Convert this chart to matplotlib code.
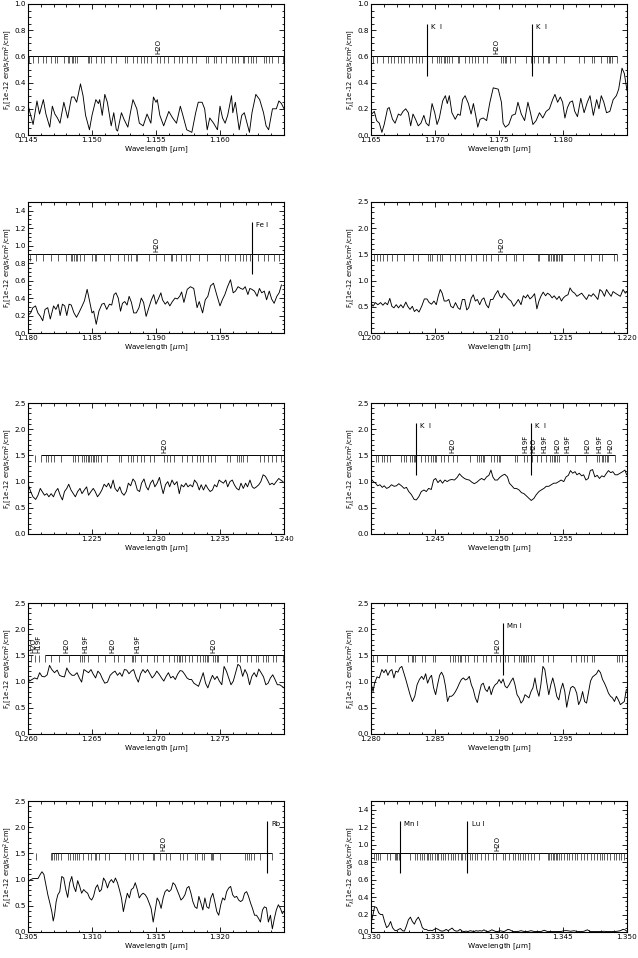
import numpy as np
import matplotlib
matplotlib.use('Agg')
import matplotlib.pyplot as plt
from matplotlib.ticker import MultipleLocator

plt.rcParams['font.family'] = 'DejaVu Sans'
plt.rcParams['font.size'] = 5.5
plt.rcParams['mathtext.fontset'] = 'dejavusans'

# ---- panel 1 : 1.145 - 1.165 um ----
wave1 = [1.14505, 1.1454, 1.1457, 1.1459, 1.1462, 1.1464, 1.1467, 1.1469, 1.1471, 1.1473, 1.1475,
         1.1478, 1.1481, 1.1484, 1.1486, 1.1488, 1.1491, 1.1493, 1.1495, 1.1498, 1.1500, 1.1503,
         1.1505, 1.1506, 1.1508, 1.1510, 1.1512, 1.1515, 1.1517, 1.1519, 1.1520, 1.1523, 1.1525,
         1.1528, 1.1530, 1.1532, 1.1535, 1.1537, 1.1540, 1.1543, 1.1546, 1.1548, 1.1550, 1.1551,
         1.1553, 1.1556, 1.1560, 1.1563, 1.1566, 1.1569, 1.1571, 1.1574, 1.1578, 1.1581, 1.1583,
         1.1586, 1.1588, 1.1590, 1.1592, 1.1595, 1.1598, 1.1600, 1.1602, 1.1604, 1.1606, 1.1609,
         1.1610, 1.1612, 1.1615, 1.1617, 1.1619, 1.1623, 1.1625, 1.1628, 1.1631, 1.1634, 1.1636,
         1.1638, 1.1641, 1.1644, 1.1646, 1.1648, 1.1650]
flux1 = [0.21, 0.08, 0.26, 0.16, 0.27, 0.16, 0.06, 0.22, 0.16, 0.13, 0.09,
         0.25, 0.13, 0.29, 0.29, 0.25, 0.39, 0.30, 0.15, 0.04, 0.15, 0.27,
         0.24, 0.27, 0.15, 0.31, 0.25, 0.07, 0.17, 0.04, 0.03, 0.17, 0.12,
         0.06, 0.17, 0.27, 0.20, 0.09, 0.07, 0.16, 0.09, 0.29, 0.25, 0.27,
         0.15, 0.07, 0.18, 0.13, 0.09, 0.22, 0.15, 0.04, 0.02, 0.17, 0.25,
         0.25, 0.20, 0.04, 0.13, 0.09, 0.04, 0.22, 0.13, 0.09, 0.15, 0.30,
         0.17, 0.25, 0.04, 0.15, 0.17, 0.02, 0.17, 0.31, 0.27, 0.17, 0.07,
         0.04, 0.20, 0.20, 0.26, 0.24, 0.20]
lines1 = [1.1451, 1.1454, 1.1458, 1.1462, 1.1464, 1.1468, 1.1471, 1.1473, 1.1478, 1.1481, 1.1482,
          1.1484, 1.1485, 1.1487, 1.1488, 1.1497, 1.1498, 1.1499, 1.1503, 1.1507, 1.1509, 1.1515,
          1.1519, 1.1526, 1.1527, 1.1532, 1.1535, 1.1538, 1.1541, 1.1543, 1.1546, 1.1551, 1.1553,
          1.1556, 1.1559, 1.1564, 1.1568, 1.1570, 1.1574, 1.1578, 1.1581, 1.1589, 1.1591, 1.1595,
          1.1597, 1.1601, 1.1605, 1.1609, 1.1612, 1.1614, 1.1618, 1.1619, 1.1622, 1.1624, 1.1626,
          1.1628, 1.1634, 1.1636, 1.1638, 1.1641, 1.1645, 1.1649]

# ---- panel 2 : 1.165 - 1.185 um ----
wave2 = [1.16505, 1.16526, 1.16544, 1.16565, 1.16585, 1.16603, 1.16629, 1.16642, 1.16668, 1.16688,
         1.16714, 1.16732, 1.16750, 1.16771, 1.16792, 1.16810, 1.16828, 1.16848, 1.16869, 1.16890,
         1.16913, 1.16931, 1.16952, 1.16977, 1.16998, 1.17016, 1.17034, 1.17060, 1.17081, 1.17096,
         1.17112, 1.17132, 1.17158, 1.17179, 1.17197, 1.17215, 1.17235, 1.17261, 1.17282, 1.17300,
         1.17318, 1.17334, 1.17352, 1.17377, 1.17403, 1.17429, 1.17455, 1.17494, 1.17519, 1.17532,
         1.17550, 1.17576, 1.17602, 1.17628, 1.17648, 1.17674, 1.17700, 1.17726, 1.17746, 1.17765,
         1.17790, 1.17816, 1.17842, 1.17868, 1.17894, 1.17919, 1.17937, 1.17958, 1.17979, 1.17997,
         1.18015, 1.18035, 1.18054, 1.18074, 1.18092, 1.18113, 1.18139, 1.18165, 1.18190, 1.18211,
         1.18237, 1.18263, 1.18281, 1.18299, 1.18319, 1.18340, 1.18366, 1.18392, 1.18417, 1.18435,
         1.18461, 1.18479, 1.18500]
flux2 = [0.16, 0.18, 0.11, 0.09, 0.02, 0.08, 0.20, 0.21, 0.12, 0.09,
         0.16, 0.15, 0.18, 0.20, 0.17, 0.07, 0.16, 0.12, 0.07, 0.09,
         0.15, 0.09, 0.07, 0.24, 0.17, 0.08, 0.13, 0.26, 0.30, 0.24,
         0.30, 0.17, 0.12, 0.16, 0.15, 0.27, 0.30, 0.24, 0.16, 0.24,
         0.15, 0.06, 0.12, 0.13, 0.11, 0.25, 0.36, 0.35, 0.25, 0.09,
         0.06, 0.08, 0.15, 0.16, 0.25, 0.16, 0.11, 0.25, 0.17, 0.08,
         0.11, 0.17, 0.13, 0.18, 0.20, 0.27, 0.31, 0.25, 0.29, 0.25,
         0.13, 0.21, 0.25, 0.26, 0.18, 0.14, 0.28, 0.17, 0.25, 0.30,
         0.15, 0.27, 0.20, 0.30, 0.25, 0.17, 0.18, 0.27, 0.30, 0.35,
         0.51, 0.47, 0.34]
lines2 = [1.16513, 1.16544, 1.16590, 1.16629, 1.16655, 1.16681, 1.16714, 1.16732, 1.16758, 1.16797,
          1.16817, 1.16848, 1.16874, 1.16900, 1.16939, 1.16977, 1.17016, 1.17034, 1.17050, 1.17068,
          1.17081, 1.17094, 1.17106, 1.17132, 1.17179, 1.17189, 1.17235, 1.17266, 1.17292, 1.17313,
          1.17339, 1.17377, 1.17403, 1.17519, 1.17532, 1.17545, 1.17558, 1.17584, 1.17628, 1.17713,
          1.17752, 1.17777, 1.17803, 1.17842, 1.17881, 1.17894, 1.17945, 1.18010, 1.18126, 1.18165,
          1.18229, 1.18242, 1.18294, 1.18345, 1.18358, 1.18371, 1.18384, 1.18423]

# ---- panel 3 : 1.180 - 1.200 um ----
wave3 = [1.18005, 1.18021, 1.18038, 1.18059, 1.18077, 1.18097, 1.18115, 1.18133, 1.18154, 1.18174,
         1.18200, 1.18218, 1.18236, 1.18251, 1.18269, 1.18287, 1.18303, 1.18321, 1.18338, 1.18359,
         1.18379, 1.18397, 1.18423, 1.18441, 1.18462, 1.18479, 1.18500, 1.18513, 1.18533, 1.18554,
         1.18577, 1.18595, 1.18615, 1.18636, 1.18654, 1.18672, 1.18687, 1.18705, 1.18723, 1.18738,
         1.18756, 1.18774, 1.18790, 1.18808, 1.18826, 1.18846, 1.18867, 1.18885, 1.18903, 1.18923,
         1.18944, 1.18964, 1.18982, 1.19000, 1.19021, 1.19038, 1.19051, 1.19072, 1.19090, 1.19108,
         1.19128, 1.19149, 1.19167, 1.19185, 1.19200, 1.19218, 1.19244, 1.19269, 1.19295, 1.19321,
         1.19338, 1.19364, 1.19385, 1.19405, 1.19426, 1.19449, 1.19474, 1.19500, 1.19518, 1.19538,
         1.19559, 1.19582, 1.19603, 1.19621, 1.19641, 1.19662, 1.19679, 1.19697, 1.19718, 1.19733,
         1.19749, 1.19769, 1.19790, 1.19808, 1.19826, 1.19846, 1.19864, 1.19885, 1.19903, 1.19923,
         1.19944, 1.19962, 1.19980]
flux3 = [0.21, 0.23, 0.29, 0.31, 0.23, 0.19, 0.14, 0.27, 0.29, 0.16,
         0.31, 0.27, 0.33, 0.20, 0.33, 0.31, 0.20, 0.33, 0.32, 0.23,
         0.18, 0.23, 0.31, 0.37, 0.50, 0.38, 0.23, 0.25, 0.10, 0.25,
         0.33, 0.34, 0.27, 0.33, 0.32, 0.44, 0.46, 0.40, 0.25, 0.34,
         0.36, 0.32, 0.42, 0.35, 0.23, 0.23, 0.29, 0.40, 0.35, 0.19,
         0.29, 0.38, 0.44, 0.33, 0.40, 0.46, 0.38, 0.33, 0.36, 0.31,
         0.36, 0.40, 0.39, 0.42, 0.47, 0.35, 0.50, 0.53, 0.51, 0.29,
         0.36, 0.23, 0.38, 0.42, 0.54, 0.57, 0.44, 0.31, 0.38, 0.44,
         0.53, 0.61, 0.46, 0.48, 0.53, 0.51, 0.50, 0.53, 0.44, 0.51,
         0.50, 0.48, 0.42, 0.51, 0.46, 0.48, 0.38, 0.48, 0.39, 0.34,
         0.42, 0.46, 0.55]
lines3 = [1.18013, 1.18064, 1.18115, 1.18179, 1.18236, 1.18295, 1.18333, 1.18346, 1.18359, 1.18372,
          1.18385, 1.18410, 1.18441, 1.18500, 1.18526, 1.18531, 1.18590, 1.18641, 1.18705, 1.18749,
          1.18782, 1.18808, 1.18846, 1.18851, 1.18949, 1.19000, 1.19064, 1.19115, 1.19128, 1.19154,
          1.19192, 1.19231, 1.19269, 1.19333, 1.19397, 1.19500, 1.19538, 1.19564, 1.19615, 1.19654,
          1.19679, 1.19705, 1.19738, 1.19795, 1.19846, 1.19877, 1.19923, 1.19962]

# ---- panel 4 : 1.200 - 1.220 um ----
wave4 = [1.20003, 1.20016, 1.20034, 1.20054, 1.20075, 1.20093, 1.20111, 1.20129, 1.20147, 1.20163,
         1.20179, 1.20197, 1.20215, 1.20233, 1.20251, 1.20272, 1.20287, 1.20305, 1.20323, 1.20339,
         1.20357, 1.20375, 1.20396, 1.20417, 1.20437, 1.20455, 1.20473, 1.20492, 1.20510, 1.20525,
         1.20541, 1.20556, 1.20572, 1.20590, 1.20608, 1.20624, 1.20642, 1.20660, 1.20680, 1.20696,
         1.20714, 1.20732, 1.20748, 1.20763, 1.20784, 1.20799, 1.20815, 1.20831, 1.20849, 1.20867,
         1.20882, 1.20900, 1.20918, 1.20934, 1.20952, 1.20970, 1.20991, 1.21006, 1.21022, 1.21038,
         1.21056, 1.21074, 1.21094, 1.21115, 1.21133, 1.21151, 1.21172, 1.21190, 1.21208, 1.21224,
         1.21242, 1.21260, 1.21278, 1.21296, 1.21312, 1.21327, 1.21345, 1.21364, 1.21379, 1.21397,
         1.21415, 1.21431, 1.21452, 1.21470, 1.21488, 1.21503, 1.21521, 1.21539, 1.21555, 1.21573,
         1.21591, 1.21609, 1.21627, 1.21646, 1.21664, 1.21684, 1.21702, 1.21721, 1.21736, 1.21754,
         1.21772, 1.21788, 1.21806, 1.21824, 1.21840, 1.21858, 1.21876, 1.21891, 1.21909, 1.21928,
         1.21948, 1.21969, 1.21987, 1.22000]
flux4 = [0.56, 0.51, 0.58, 0.54, 0.58, 0.53, 0.58, 0.54, 0.66, 0.51,
         0.48, 0.54, 0.48, 0.54, 0.48, 0.59, 0.51, 0.45, 0.51, 0.41,
         0.45, 0.40, 0.51, 0.65, 0.65, 0.58, 0.55, 0.61, 0.54, 0.70,
         0.83, 0.76, 0.61, 0.61, 0.64, 0.51, 0.48, 0.58, 0.48, 0.45,
         0.64, 0.64, 0.44, 0.48, 0.67, 0.73, 0.61, 0.64, 0.54, 0.64,
         0.67, 0.54, 0.48, 0.64, 0.64, 0.73, 0.81, 0.71, 0.67, 0.76,
         0.71, 0.65, 0.61, 0.51, 0.57, 0.64, 0.54, 0.71, 0.67, 0.73,
         0.65, 0.69, 0.75, 0.46, 0.61, 0.70, 0.78, 0.71, 0.76, 0.73,
         0.67, 0.71, 0.64, 0.70, 0.61, 0.67, 0.71, 0.73, 0.86, 0.79,
         0.76, 0.70, 0.73, 0.76, 0.70, 0.64, 0.73, 0.70, 0.75, 0.70,
         0.64, 0.83, 0.79, 0.70, 0.83, 0.76, 0.70, 0.79, 0.76, 0.73,
         0.70, 0.83, 0.76, 0.79]
lines4 = [1.20021, 1.20047, 1.20072, 1.20093, 1.20124, 1.20163, 1.20202, 1.20254, 1.20331, 1.20370,
          1.20448, 1.20461, 1.20479, 1.20512, 1.20538, 1.20551, 1.20616, 1.20655, 1.20693, 1.20732,
          1.20784, 1.20823, 1.20875, 1.20900, 1.20939, 1.20991, 1.21056, 1.21120, 1.21133, 1.21185,
          1.21301, 1.21314, 1.21379, 1.21392, 1.21405, 1.21418, 1.21431, 1.21444, 1.21457, 1.21470,
          1.21483, 1.21496, 1.21586, 1.21664, 1.21715, 1.21780, 1.21806, 1.21897, 1.21922]

# ---- panel 5 : 1.220 - 1.240 um ----
wave5 = [1.22005, 1.22021, 1.22039, 1.22060, 1.22078, 1.22096, 1.22111, 1.22129, 1.22147, 1.22163,
         1.22181, 1.22199, 1.22215, 1.22233, 1.22251, 1.22269, 1.22285, 1.22303, 1.22318, 1.22336,
         1.22354, 1.22370, 1.22388, 1.22406, 1.22422, 1.22440, 1.22458, 1.22473, 1.22492, 1.22510,
         1.22525, 1.22543, 1.22561, 1.22577, 1.22595, 1.22613, 1.22629, 1.22647, 1.22665, 1.22680,
         1.22699, 1.22717, 1.22732, 1.22750, 1.22768, 1.22784, 1.22802, 1.22820, 1.22836, 1.22854,
         1.22872, 1.22887, 1.22906, 1.22924, 1.22939, 1.22957, 1.22975, 1.22991, 1.23009, 1.23027,
         1.23043, 1.23056, 1.23074, 1.23092, 1.23107, 1.23125, 1.23144, 1.23164, 1.23182, 1.23198,
         1.23216, 1.23234, 1.23250, 1.23268, 1.23286, 1.23301, 1.23320, 1.23338, 1.23353, 1.23371,
         1.23389, 1.23405, 1.23423, 1.23441, 1.23457, 1.23475, 1.23493, 1.23508, 1.23527, 1.23545,
         1.23560, 1.23578, 1.23596, 1.23612, 1.23630, 1.23648, 1.23664, 1.23682, 1.23700, 1.23715,
         1.23734, 1.23752, 1.23767, 1.23785, 1.23803, 1.23819, 1.23837, 1.23855, 1.23871, 1.23889,
         1.23907, 1.23922, 1.23940, 1.23959, 1.23974, 1.23992]
flux5 = [0.92, 0.81, 0.71, 0.66, 0.74, 0.87, 0.81, 0.74, 0.77, 0.71,
         0.77, 0.71, 0.81, 0.87, 0.74, 0.65, 0.81, 0.87, 0.95, 0.84,
         0.77, 0.71, 0.81, 0.87, 0.77, 0.84, 0.90, 0.74, 0.81, 0.87,
         0.81, 0.71, 0.77, 0.84, 0.95, 0.90, 0.97, 0.87, 1.03, 0.87,
         0.81, 0.90, 0.79, 0.74, 0.81, 0.97, 0.92, 1.05, 1.00, 0.84,
         0.81, 0.97, 1.05, 0.90, 0.84, 0.97, 1.03, 0.90, 0.97, 1.08,
         0.90, 0.77, 0.94, 1.00, 0.90, 1.03, 0.94, 1.00, 0.77, 0.94,
         0.90, 0.97, 0.90, 0.94, 0.90, 1.03, 0.97, 0.84, 0.94, 0.84,
         0.94, 0.87, 0.81, 0.84, 0.94, 0.90, 1.03, 1.00, 0.97, 1.03,
         0.90, 1.00, 1.03, 0.94, 0.87, 0.84, 0.97, 0.87, 0.97, 0.90,
         1.03, 0.90, 0.87, 0.90, 0.94, 1.00, 1.13, 1.10, 1.03, 0.94,
         0.97, 0.94, 1.00, 1.06, 1.03, 1.00]
lines5 = [1.22103, 1.22142, 1.22160, 1.22181, 1.22207, 1.22259, 1.22349, 1.22367, 1.22388, 1.22419,
          1.22435, 1.22453, 1.22466, 1.22479, 1.22492, 1.22505, 1.22517, 1.22530, 1.22549, 1.22569,
          1.22616, 1.22712, 1.22730, 1.22781, 1.22802, 1.22823, 1.22854, 1.22880, 1.22906, 1.22957,
          1.22983, 1.23061, 1.23087, 1.23112, 1.23138, 1.23203, 1.23242, 1.23281, 1.23320, 1.23345,
          1.23371, 1.23410, 1.23428, 1.23462, 1.23558, 1.23578, 1.23635, 1.23651, 1.23661, 1.23682,
          1.23713, 1.23816, 1.23842, 1.23876, 1.23909, 1.23940, 1.23979]
solo5 = [1.22052]

# ---- panel 6 : 1.240 - 1.260 um ----
wave6 = [1.24005, 1.24018, 1.24036, 1.24052, 1.24070, 1.24088, 1.24103, 1.24122, 1.24140, 1.24160,
         1.24181, 1.24199, 1.24217, 1.24238, 1.24259, 1.24277, 1.24295, 1.24316, 1.24337, 1.24354,
         1.24373, 1.24393, 1.24414, 1.24432, 1.24450, 1.24471, 1.24489, 1.24505, 1.24523, 1.24541,
         1.24559, 1.24577, 1.24595, 1.24613, 1.24631, 1.24652, 1.24673, 1.24691, 1.24709, 1.24730,
         1.24748, 1.24768, 1.24787, 1.24807, 1.24828, 1.24846, 1.24864, 1.24885, 1.24903, 1.24921,
         1.24937, 1.24952, 1.24968, 1.24988, 1.25006, 1.25027, 1.25045, 1.25066, 1.25081, 1.25100,
         1.25118, 1.25136, 1.25157, 1.25175, 1.25195, 1.25213, 1.25234, 1.25252, 1.25273, 1.25291,
         1.25312, 1.25330, 1.25351, 1.25369, 1.25389, 1.25408, 1.25428, 1.25446, 1.25467, 1.25485,
         1.25506, 1.25524, 1.25542, 1.25558, 1.25576, 1.25594, 1.25609, 1.25627, 1.25646, 1.25661,
         1.25679, 1.25697, 1.25713, 1.25731, 1.25749, 1.25767, 1.25785, 1.25803, 1.25821, 1.25837,
         1.25855, 1.25873, 1.25889, 1.25907, 1.25925, 1.25946, 1.25966, 1.25984, 1.25997]
flux6 = [1.04, 1.00, 0.97, 0.92, 0.94, 0.89, 0.92, 0.87, 0.89, 0.94,
         0.91, 0.92, 0.96, 0.92, 0.87, 0.89, 0.81, 0.75, 0.66, 0.65,
         0.71, 0.81, 0.84, 0.81, 0.87, 0.85, 1.03, 1.06, 0.98, 1.03,
         0.97, 1.03, 1.00, 1.03, 1.04, 1.03, 1.08, 1.15, 1.10, 1.06,
         1.04, 1.03, 0.99, 0.96, 0.99, 1.03, 1.06, 1.03, 1.09, 1.12,
         1.22, 1.09, 1.03, 1.03, 1.08, 1.12, 1.14, 1.09, 0.97, 0.92,
         0.87, 0.87, 0.84, 0.79, 0.77, 0.73, 0.68, 0.64, 0.68, 0.75,
         0.81, 0.84, 0.87, 0.91, 0.91, 0.94, 0.97, 0.97, 1.00, 1.03,
         1.00, 1.09, 1.12, 1.21, 1.16, 1.19, 1.13, 1.16, 1.11, 1.13,
         1.03, 1.06, 1.21, 1.23, 1.09, 1.12, 1.06, 1.11, 1.09, 1.15,
         1.21, 1.17, 1.19, 1.13, 1.13, 1.16, 1.19, 1.22, 1.13]
lines6 = [1.24036, 1.24057, 1.24083, 1.24103, 1.24122, 1.24147, 1.24238, 1.24259, 1.24277, 1.24303,
          1.24323, 1.24334, 1.24347, 1.24393, 1.24419, 1.24445, 1.24471, 1.24484, 1.24497, 1.24510,
          1.24543, 1.24574, 1.24600, 1.24639, 1.24673, 1.24776, 1.24828, 1.24846, 1.24859, 1.24872,
          1.24885, 1.24937, 1.24962, 1.24988, 1.25001, 1.25009, 1.25123, 1.25138, 1.25195, 1.25216,
          1.25260, 1.25299, 1.25330, 1.25364, 1.25402, 1.25415, 1.25428, 1.25441, 1.25454, 1.25467,
          1.25532, 1.25596, 1.25682, 1.25765, 1.25785, 1.25803, 1.25816, 1.25829, 1.25842, 1.25855,
          1.25907]

# ---- panel 7 : 1.260 - 1.280 um ----
wave7 = [1.26000, 1.26013, 1.26031, 1.26052, 1.26072, 1.26091, 1.26109, 1.26129, 1.26150, 1.26168,
         1.26186, 1.26207, 1.26228, 1.26246, 1.26264, 1.26285, 1.26303, 1.26323, 1.26344, 1.26362,
         1.26383, 1.26401, 1.26419, 1.26437, 1.26455, 1.26473, 1.26492, 1.26510, 1.26528, 1.26546,
         1.26564, 1.26582, 1.26600, 1.26621, 1.26642, 1.26662, 1.26680, 1.26699, 1.26717, 1.26735,
         1.26753, 1.26771, 1.26789, 1.26807, 1.26825, 1.26843, 1.26862, 1.26880, 1.26898, 1.26916,
         1.26934, 1.26952, 1.26970, 1.26988, 1.27006, 1.27025, 1.27043, 1.27061, 1.27079, 1.27097,
         1.27115, 1.27133, 1.27151, 1.27169, 1.27188, 1.27206, 1.27224, 1.27242, 1.27260, 1.27278,
         1.27296, 1.27314, 1.27332, 1.27351, 1.27369, 1.27387, 1.27405, 1.27423, 1.27441, 1.27459,
         1.27477, 1.27495, 1.27514, 1.27532, 1.27550, 1.27568, 1.27586, 1.27604, 1.27622, 1.27640,
         1.27658, 1.27677, 1.27695, 1.27713, 1.27731, 1.27749, 1.27767, 1.27785, 1.27803, 1.27821,
         1.27840, 1.27858, 1.27876, 1.27894, 1.27912, 1.27930, 1.27948, 1.27966, 1.27984, 1.28000]
flux7 = [1.07, 1.01, 1.04, 1.07, 1.05, 1.17, 1.10, 1.09, 1.13, 1.31,
         1.23, 1.17, 1.22, 1.12, 1.10, 1.09, 1.26, 1.17, 1.12, 1.12,
         1.17, 1.07, 0.99, 1.23, 1.20, 1.17, 1.23, 1.14, 1.07, 1.20,
         1.15, 1.05, 0.97, 0.99, 1.12, 1.17, 1.20, 1.12, 1.17, 1.10,
         1.23, 1.22, 1.15, 1.20, 1.23, 1.09, 0.99, 1.15, 1.23, 1.17,
         1.23, 1.15, 1.07, 1.12, 1.20, 1.14, 1.07, 1.01, 1.10, 1.17,
         1.07, 1.10, 1.04, 1.14, 1.21, 1.20, 1.14, 1.07, 1.04, 1.04,
         0.97, 0.94, 0.91, 1.04, 1.17, 0.97, 0.88, 1.01, 1.12, 1.04,
         1.10, 1.01, 0.94, 1.29, 1.20, 1.07, 0.94, 1.01, 1.17, 1.33,
         1.29, 1.10, 1.23, 1.14, 0.94, 1.10, 1.17, 1.09, 1.24, 1.17,
         1.09, 0.94, 0.97, 1.07, 1.13, 1.04, 0.94, 0.94, 0.91, 0.88]
lines7 = [1.26129, 1.26181, 1.26246, 1.26323, 1.26409, 1.26419, 1.26435, 1.26471, 1.26543, 1.26600,
          1.26673, 1.26704, 1.26750, 1.26815, 1.26823, 1.26833, 1.26880, 1.26931, 1.26983, 1.27009,
          1.27056, 1.27100, 1.27144, 1.27164, 1.27177, 1.27190, 1.27203, 1.27229, 1.27255, 1.27281,
          1.27320, 1.27345, 1.27371, 1.27384, 1.27402, 1.27410, 1.27449, 1.27462, 1.27475, 1.27488,
          1.27552, 1.27630, 1.27656, 1.27708, 1.27746, 1.27785, 1.27798, 1.27837, 1.27863, 1.27876,
          1.27915, 1.27940, 1.27992]
solo7 = [1.26021, 1.26052, 1.26083]

# ---- panel 8 : 1.280 - 1.300 um ----
wave8 = [1.28003, 1.28016, 1.28028, 1.28047, 1.28065, 1.28085, 1.28101, 1.28116, 1.28132, 1.28147,
         1.28163, 1.28179, 1.28194, 1.28210, 1.28225, 1.28241, 1.28256, 1.28272, 1.28287, 1.28305,
         1.28323, 1.28342, 1.28360, 1.28378, 1.28396, 1.28411, 1.28427, 1.28442, 1.28458, 1.28473,
         1.28489, 1.28505, 1.28520, 1.28536, 1.28551, 1.28567, 1.28582, 1.28598, 1.28613, 1.28629,
         1.28644, 1.28660, 1.28675, 1.28691, 1.28706, 1.28722, 1.28737, 1.28753, 1.28768, 1.28784,
         1.28799, 1.28815, 1.28831, 1.28846, 1.28862, 1.28877, 1.28893, 1.28908, 1.28924, 1.28939,
         1.28955, 1.28970, 1.28986, 1.29001, 1.29017, 1.29032, 1.29048, 1.29063, 1.29079, 1.29094,
         1.29110, 1.29125, 1.29141, 1.29157, 1.29172, 1.29188, 1.29203, 1.29219, 1.29234, 1.29250,
         1.29265, 1.29281, 1.29296, 1.29312, 1.29327, 1.29343, 1.29358, 1.29374, 1.29389, 1.29405,
         1.29420, 1.29436, 1.29451, 1.29467, 1.29483, 1.29498, 1.29514, 1.29529, 1.29545, 1.29560,
         1.29576, 1.29591, 1.29607, 1.29622, 1.29638, 1.29653, 1.29669, 1.29684, 1.29700, 1.29715,
         1.29731, 1.29746, 1.29762, 1.29777, 1.29793, 1.29809, 1.29824, 1.29840, 1.29855, 1.29871,
         1.29886, 1.29902, 1.29917, 1.29933, 1.29948, 1.29964, 1.29979, 1.29995]
flux8 = [0.94, 0.81, 0.97, 1.09, 1.07, 1.23, 1.17, 1.23, 1.12, 1.20,
         1.23, 1.07, 1.20, 1.18, 1.26, 1.29, 1.17, 1.04, 0.91, 0.75,
         0.62, 0.72, 0.94, 1.04, 1.10, 1.04, 1.15, 0.97, 1.07, 1.12,
         0.88, 0.75, 0.94, 1.12, 1.18, 1.10, 0.91, 0.62, 0.72, 0.72,
         0.75, 0.81, 0.88, 0.97, 1.04, 1.07, 1.03, 1.05, 1.10, 0.94,
         0.85, 0.69, 0.60, 0.78, 0.94, 0.97, 0.85, 0.81, 0.91, 0.75,
         0.88, 0.94, 0.97, 1.04, 0.97, 1.05, 0.91, 0.88, 0.94, 1.01,
         1.07, 0.94, 0.75, 0.69, 0.59, 0.64, 0.75, 0.72, 0.69, 0.81,
         0.88, 1.07, 0.85, 0.72, 0.94, 1.29, 1.23, 0.97, 0.75, 0.94,
         1.07, 0.91, 0.72, 0.65, 0.85, 0.97, 0.81, 0.51, 0.72, 0.88,
         0.91, 0.88, 0.78, 0.56, 0.65, 0.81, 0.62, 0.59, 0.81, 1.01,
         1.09, 1.12, 1.15, 1.22, 1.17, 1.04, 0.97, 0.88, 0.78, 0.72,
         0.69, 0.62, 0.72, 0.65, 0.56, 0.59, 0.62, 0.85]
lines8 = [1.28016, 1.28047, 1.28124, 1.28184, 1.28292, 1.28318, 1.28331, 1.28344, 1.28401, 1.28422,
          1.28486, 1.28499, 1.28616, 1.28642, 1.28660, 1.28680, 1.28693, 1.28706, 1.28732, 1.28758,
          1.28805, 1.28831, 1.28875, 1.28900, 1.28939, 1.28978, 1.29004, 1.29043, 1.29074, 1.29120,
          1.29159, 1.29172, 1.29185, 1.29198, 1.29211, 1.29224, 1.29250, 1.29276, 1.29340, 1.29379,
          1.29418, 1.29560, 1.29599, 1.29638, 1.29664, 1.29690, 1.29729, 1.29741, 1.29922, 1.29935,
          1.29961]

# ---- panel 9 : 1.305 - 1.325 um ----
wave9 = [1.30505, 1.30521, 1.30539, 1.30557, 1.30578, 1.30596, 1.30609, 1.30624, 1.30640, 1.30655,
         1.30671, 1.30686, 1.30697, 1.30707, 1.30720, 1.30733, 1.30748, 1.30764, 1.30779, 1.30795,
         1.30810, 1.30826, 1.30842, 1.30857, 1.30873, 1.30888, 1.30904, 1.30919, 1.30935, 1.30950,
         1.30966, 1.30981, 1.30997, 1.31012, 1.31028, 1.31043, 1.31059, 1.31074, 1.31090, 1.31105,
         1.31121, 1.31136, 1.31152, 1.31168, 1.31183, 1.31199, 1.31214, 1.31230, 1.31245, 1.31261,
         1.31276, 1.31292, 1.31307, 1.31323, 1.31338, 1.31354, 1.31369, 1.31385, 1.31400, 1.31416,
         1.31431, 1.31447, 1.31462, 1.31478, 1.31494, 1.31509, 1.31525, 1.31540, 1.31556, 1.31571,
         1.31587, 1.31602, 1.31618, 1.31633, 1.31649, 1.31664, 1.31680, 1.31695, 1.31711, 1.31726,
         1.31742, 1.31757, 1.31773, 1.31788, 1.31804, 1.31820, 1.31835, 1.31851, 1.31866, 1.31882,
         1.31897, 1.31913, 1.31928, 1.31944, 1.31959, 1.31975, 1.31990, 1.32006, 1.32021, 1.32037,
         1.32052, 1.32068, 1.32083, 1.32099, 1.32114, 1.32130, 1.32146, 1.32161, 1.32177, 1.32192,
         1.32208, 1.32223, 1.32239, 1.32254, 1.32270, 1.32285, 1.32301, 1.32316, 1.32332, 1.32347,
         1.32363, 1.32378, 1.32394, 1.32409, 1.32425, 1.32440, 1.32456, 1.32472, 1.32487, 1.32497]
flux9 = [0.97, 1.00, 1.02, 1.02, 1.02, 1.10, 1.15, 1.10, 0.90, 0.71,
         0.55, 0.39, 0.21, 0.32, 0.58, 0.71, 0.77, 1.06, 1.03, 0.81,
         0.66, 0.94, 1.06, 0.87, 0.77, 0.98, 0.87, 0.74, 0.81, 0.77,
         0.74, 0.65, 0.61, 0.68, 0.84, 0.90, 0.77, 0.81, 1.03, 0.97,
         0.84, 0.95, 1.00, 0.94, 1.03, 0.94, 0.81, 0.65, 0.39, 0.58,
         0.74, 0.65, 0.81, 0.84, 0.94, 0.81, 0.65, 0.71, 0.74, 0.71,
         0.65, 0.55, 0.45, 0.19, 0.42, 0.65, 0.58, 0.45, 0.65, 0.77,
         0.81, 0.77, 0.81, 0.94, 0.90, 0.81, 0.71, 0.61, 0.65, 0.71,
         0.84, 0.87, 0.74, 0.58, 0.48, 0.45, 0.68, 0.55, 0.42, 0.65,
         0.48, 0.45, 0.65, 0.74, 0.58, 0.39, 0.32, 0.52, 0.65, 0.61,
         0.77, 0.84, 0.87, 0.71, 0.66, 0.68, 0.61, 0.58, 0.61, 0.74,
         0.77, 0.68, 0.55, 0.45, 0.32, 0.32, 0.26, 0.19, 0.42, 0.48,
         0.46, 0.19, 0.32, 0.06, 0.26, 0.42, 0.52, 0.45, 0.35, 0.39]
lines9 = [1.30681, 1.30689, 1.30702, 1.30715, 1.30733, 1.30754, 1.30810, 1.30831, 1.30849, 1.30867,
          1.30883, 1.30901, 1.30927, 1.30966, 1.30992, 1.31023, 1.31030, 1.31056, 1.31100, 1.31129,
          1.31255, 1.31297, 1.31323, 1.31359, 1.31400, 1.31478, 1.31488, 1.31535, 1.31582, 1.31613,
          1.31685, 1.31711, 1.31742, 1.31807, 1.31820, 1.31858, 1.31876, 1.31928, 1.31939, 1.31949,
          1.32001, 1.32195, 1.32213, 1.32228, 1.32239, 1.32265, 1.32311, 1.32409]
solo9 = [1.30560]

# ---- panel 10 : 1.330 - 1.350 um ----
wave10 = [1.33003, 1.33016, 1.33028, 1.33044, 1.33060, 1.33075, 1.33091, 1.33106, 1.33122, 1.33137,
          1.33153, 1.33168, 1.33184, 1.33199, 1.33215, 1.33230, 1.33246, 1.33261, 1.33277, 1.33292,
          1.33308, 1.33323, 1.33339, 1.33354, 1.33370, 1.33386, 1.33401, 1.33417, 1.33432, 1.33448,
          1.33463, 1.33479, 1.33494, 1.33510, 1.33525, 1.33541, 1.33556, 1.33572, 1.33587, 1.33603,
          1.33618, 1.33634, 1.33649, 1.33665, 1.33680, 1.33696, 1.33712, 1.33727, 1.33743, 1.33758,
          1.33774, 1.33789, 1.33805, 1.33820, 1.33836, 1.33851, 1.33867, 1.33882, 1.33898, 1.33913,
          1.33929, 1.33944, 1.33960, 1.33975, 1.33991, 1.34006, 1.34022, 1.34038, 1.34053, 1.34069,
          1.34084, 1.34100, 1.34115, 1.34146, 1.34172, 1.34198, 1.34224, 1.34250, 1.34276, 1.34301,
          1.34327, 1.34353, 1.34379, 1.34405, 1.34431, 1.34457, 1.34483, 1.34508, 1.34534, 1.34560,
          1.34586, 1.34612, 1.34638, 1.34664, 1.34690, 1.34715, 1.34741, 1.34767, 1.34793, 1.34819,
          1.34845, 1.34871, 1.34897, 1.34922, 1.34948, 1.34969, 1.34984, 1.35000]
flux10 = [0.12, 0.20, 0.29, 0.28, 0.22, 0.20, 0.20, 0.12, 0.05, 0.07,
          0.12, 0.05, 0.02, 0.015, 0.03, 0.04, 0.015, 0.01, 0.07, 0.14,
          0.17, 0.12, 0.09, 0.14, 0.17, 0.12, 0.05, 0.03, 0.03, 0.015,
          0.02, 0.015, 0.03, 0.04, 0.03, 0.015, 0.01, 0.015, 0.03, 0.015,
          0.03, 0.045, 0.02, 0.01, 0.012, 0.03, 0.01, 0.005, 0.01, 0.005,
          0.015, 0.01, 0.005, 0.015, 0.01, 0.015, 0.01, 0.025, 0.01, 0.005,
          0.012, 0.025, 0.015, 0.005, 0.005, 0.015, 0.01, 0.005, 0.015, 0.03,
          0.025, 0.012, 0.005, 0.005, 0.015, 0.005, 0.005, 0.015, 0.005, 0.005,
          0.005, 0.02, 0.005, 0.005, 0.005, 0.005, 0.005, 0.015, 0.015, 0.008,
          0.015, 0.005, 0.005, 0.008, 0.025, 0.005, 0.005, 0.005, 0.005, 0.008,
          0.005, 0.005, 0.005, 0.008, 0.015, 0.03, 0.025, 0.008]
lines10 = [1.33021, 1.33039, 1.33054, 1.33067, 1.33124, 1.33150, 1.33184, 1.33194, 1.33204, 1.33215,
           1.33228, 1.33305, 1.33344, 1.33357, 1.33383, 1.33396, 1.33417, 1.33435, 1.33448, 1.33463,
           1.33479, 1.33499, 1.33512, 1.33525, 1.33546, 1.33564, 1.33582, 1.33603, 1.33624, 1.33642,
           1.33660, 1.33680, 1.33701, 1.33712, 1.33732, 1.33753, 1.33771, 1.33789, 1.33810, 1.33831,
           1.33862, 1.33887, 1.33913, 1.33952, 1.33978, 1.34030, 1.34048, 1.34081, 1.34107, 1.34125,
           1.34146, 1.34167, 1.34185, 1.34203, 1.34224, 1.34250, 1.34276, 1.34314, 1.34379, 1.34392,
           1.34405, 1.34418, 1.34431, 1.34444, 1.34457, 1.34470, 1.34483, 1.34508, 1.34529, 1.34547,
           1.34573, 1.34591, 1.34612, 1.34638, 1.34664, 1.34690, 1.34715, 1.34741, 1.34767, 1.34788,
           1.34806, 1.34824, 1.34845, 1.34871, 1.34897, 1.34917, 1.34935, 1.34953, 1.34974]

# atomic lines (wavelength, name) and molecule labels per panel
atoms2 = [(1.16939, 'K  I'), (1.17759, 'K  I')]
atoms3 = [(1.19749, 'Fe I')]
atoms6 = [(1.24349, 'K  I'), (1.25250, 'K  I')]
atoms8 = [(1.29030, 'Mn I')]
atoms9 = [(1.32371, 'Rb')]
atoms10 = [(1.33223, 'Mn I'), (1.33753, 'Lu I')]

labels6 = [(1.24639, 'H2O'), (1.25208, 'H19F'), (1.25268, 'H2O'), (1.25358, 'H19F'),
           (1.25454, 'H2O'), (1.25537, 'H19F'), (1.25692, 'H2O'), (1.25785, 'H19F'), (1.25868, 'H2O')]
labels7 = [(1.26039, 'H2O'), (1.26078, 'H19F'), (1.26297, 'H2O'), (1.26445, 'H19F'),
           (1.26660, 'H2O'), (1.26854, 'H19F'), (1.27449, 'H2O')]

panels = [
    dict(w=wave1, f=flux1, lines=lines1, solo=[], span=(1.145, 1.165), xlim=(1.145, 1.165),
         xlab=[1.145, 1.150, 1.155, 1.160], ymax=1.0, ystep=0.2, ymin=0.05, bar=0.6,
         atoms=[], labels=[(1.15522, 'H2O')]),
    dict(w=wave2, f=flux2, lines=lines2, solo=[], span=(1.165, 1.18423), xlim=(1.165, 1.185),
         xlab=[1.165, 1.170, 1.175, 1.180], ymax=1.0, ystep=0.2, ymin=0.05, bar=0.6,
         atoms=atoms2, labels=[(1.17481, 'H2O')]),
    dict(w=wave3, f=flux3, lines=lines3, solo=[], span=(1.180, 1.200), xlim=(1.180, 1.200),
         xlab=[1.180, 1.185, 1.190, 1.195], ymax=1.5, ystep=0.2, ymin=0.05, bar=0.9,
         atoms=atoms3, labels=[(1.19000, 'H2O')]),
    dict(w=wave4, f=flux4, lines=lines4, solo=[], span=(1.200, 1.21922), xlim=(1.200, 1.220),
         xlab=[1.200, 1.205, 1.210, 1.215, 1.220], ymax=2.5, ystep=0.5, ymin=0.1, bar=1.5,
         atoms=[], labels=[(1.21022, 'H2O')]),
    dict(w=wave5, f=flux5, lines=lines5, solo=solo5, span=(1.22103, 1.240), xlim=(1.220, 1.240),
         xlab=[1.225, 1.230, 1.235, 1.240], ymax=2.5, ystep=0.5, ymin=0.1, bar=1.5,
         atoms=[], labels=[(1.23066, 'H2O')]),
    dict(w=wave6, f=flux6, lines=lines6, solo=[], span=(1.240, 1.25907), xlim=(1.240, 1.260),
         xlab=[1.245, 1.250, 1.255], ymax=2.5, ystep=0.5, ymin=0.1, bar=1.5,
         atoms=atoms6, labels=labels6),
    dict(w=wave7, f=flux7, lines=lines7, solo=solo7, span=(1.26129, 1.280), xlim=(1.260, 1.280),
         xlab=[1.260, 1.265, 1.270, 1.275], ymax=2.5, ystep=0.5, ymin=0.1, bar=1.5,
         atoms=[], labels=labels7),
    dict(w=wave8, f=flux8, lines=lines8, solo=[], span=(1.280, 1.300), xlim=(1.280, 1.300),
         xlab=[1.280, 1.285, 1.290, 1.295], ymax=2.5, ystep=0.5, ymin=0.1, bar=1.5,
         atoms=atoms8, labels=[(1.28991, 'H2O')]),
    dict(w=wave9, f=flux9, lines=lines9, solo=solo9, span=(1.30681, 1.32409), xlim=(1.305, 1.325),
         xlab=[1.305, 1.310, 1.315, 1.320], ymax=2.5, ystep=0.5, ymin=0.1, bar=1.5,
         atoms=atoms9, labels=[(1.31561, 'H2O')]),
    dict(w=wave10, f=flux10, lines=lines10, solo=[], span=(1.330, 1.350), xlim=(1.330, 1.350),
         xlab=[1.330, 1.335, 1.340, 1.345, 1.350], ymax=1.5, ystep=0.2, ymin=0.05, bar=0.9,
         atoms=atoms10, labels=[(1.33991, 'H2O')]),
]

W, H = 638, 958
fig = plt.figure(figsize=(W / 100, H / 100), dpi=100)

col_x = [28, 371]
row_top = [4, 202, 403, 603, 801]
ax_w, ax_h = 256, 131

for i, p in enumerate(panels):
    r, c = divmod(i, 2)
    ax = fig.add_axes([col_x[c] / W, 1 - (row_top[r] + ax_h) / H, ax_w / W, ax_h / H])
    R = p['ymax']
    ax.plot(p['w'], p['f'], color='black', lw=0.65)

    # line list: horizontal bar with hanging ticks
    bar = p['bar']
    ax.hlines(bar, p['span'][0], p['span'][1], color='black', lw=0.7)
    ax.vlines(p['lines'], bar - 0.05 * R, bar, color='0.2', lw=0.55)
    if p['solo']:
        ax.vlines(p['solo'], bar - 0.05 * R, bar, color='0.2', lw=0.55)

    for wl, name in p['atoms']:
        top = bar + 0.25 * R
        ax.vlines(wl, bar - 0.15 * R, top, color='black', lw=0.8)
        ax.annotate(name, (wl, top), xytext=(3, 0), textcoords='offset points',
                    va='top', ha='left', fontsize=5)

    for wl, name in p['labels']:
        ax.text(wl, bar + 0.02 * R, name, rotation=90, ha='center', va='bottom', fontsize=5)

    ax.set_xlim(*p['xlim'])
    ax.set_ylim(0, R)
    xt = np.arange(p['xlim'][0], p['xlim'][1] + 1e-6, 0.005)
    ax.set_xticks(xt)
    ax.set_xticklabels([f'{t:.3f}' if any(abs(t - v) < 1e-6 for v in p['xlab']) else '' for t in xt])
    ax.xaxis.set_minor_locator(MultipleLocator(0.001))
    yt = np.arange(0, R + 1e-6, p['ystep'])
    ax.set_yticks(yt)
    ax.set_yticklabels([f'{t:.1f}' for t in yt])
    ax.yaxis.set_minor_locator(MultipleLocator(p['ymin']))
    ax.tick_params(which='both', direction='in', top=True, right=True, width=0.6, labelsize=5.2, pad=1.5)
    ax.tick_params(which='major', length=3.5)
    ax.tick_params(which='minor', length=1.8)
    for s in ax.spines.values():
        s.set_linewidth(0.8)
    ax.set_xlabel('Wavelength [$\\mu$m]', fontsize=5.2, labelpad=1)
    ax.set_ylabel('F$_\\lambda$[1e-12 erg/s/cm$^2$/cm]', fontsize=4.9, labelpad=0.5)

fig.savefig('out.png', dpi=100)
